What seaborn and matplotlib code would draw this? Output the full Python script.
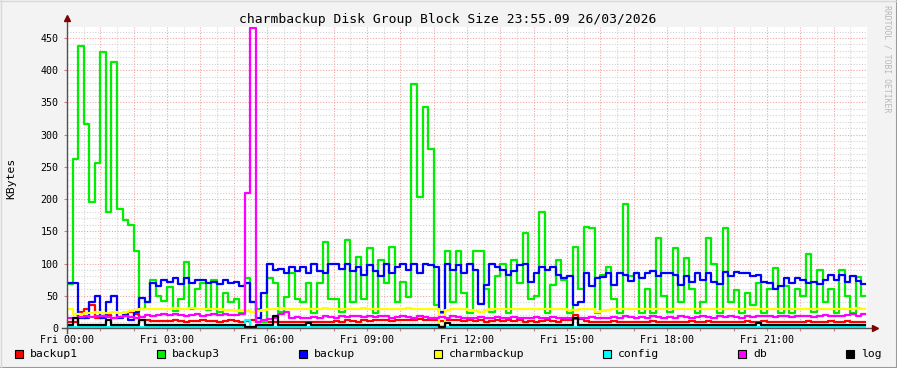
import numpy as np
import pandas as pd
import matplotlib
matplotlib.use("Agg")
import matplotlib.pyplot as plt
import seaborn as sns
from matplotlib.patches import Rectangle
from matplotlib.lines import Line2D

# 10-minute samples, Fri 00:00 .. 23:50
hours = np.arange(144) / 6.0

backup1 = [10, 10, 25, 30, 35, 15,  18, 20, 15, 17, 20, 25,  22, 12, 12, 11, 11, 11,
           11, 12, 11, 10, 11, 11,  12, 11, 11, 10, 11, 12,  11, 10, 11, 12, 10, 9,
           9, 10, 9, 10, 10, 9,  10, 9, 10, 9, 10, 10,  11, 10, 12, 11, 10, 12,
           11, 12, 13, 12, 11, 13,  12, 13, 12, 14, 12, 13,  12, 11, 12, 13, 12, 11,
           12, 11, 12, 10, 11, 12,  11, 12, 11, 12, 10, 11,  10, 11, 12, 11, 10, 12,
           13, 20, 14, 11, 10, 10,  9, 10, 11, 10, 9, 10,  10, 9, 10, 11, 10, 10,
           10, 9, 10, 10, 11, 10,  10, 11, 10, 10, 9, 10,  10, 10, 11, 10, 10, 11,
           10, 10, 9, 10, 10, 10,  10, 11, 10, 10, 10, 11,  10, 10, 11, 10, 10, 10]

backup3 = [68, 262, 437, 317, 195, 256,  428, 180, 413, 185, 167, 160,  120, 30, 40, 75, 50, 42,
           64, 26, 45, 102, 30, 60,  70, 28, 75, 25, 55, 40,  45, 24, 78, 40, 30, 10,
           78, 70, 25, 48, 85, 45,  40, 70, 24, 70, 133, 45,  45, 25, 136, 40, 110, 45,
           124, 24, 105, 70, 125, 40,  71, 48, 378, 203, 343, 278,  35, 24, 120, 40, 120, 55,
           24, 120, 120, 60, 25, 80,  100, 24, 105, 70, 147, 45,  50, 180, 24, 67, 105, 74,
           24, 126, 60, 157, 155, 24,  82, 95, 45, 24, 192, 80,  85, 24, 60, 24, 140, 50,
           25, 124, 40, 109, 60, 24,  40, 140, 100, 24, 155, 40,  59, 24, 54, 35, 70, 24,
           60, 93, 24, 65, 24, 60,  50, 115, 25, 90, 40, 60,  24, 90, 50, 24, 79, 50]

backup = [70, 70, 15, 15, 40, 50,  15, 40, 50, 15, 20, 12,  25, 47, 40, 70, 65, 75,
          72, 78, 68, 77, 70, 75,  75, 70, 72, 68, 74, 70,  72, 65, 70, 40, 15, 55,
          100, 90, 92, 85, 95, 88,  95, 85, 100, 88, 85, 100,  100, 92, 100, 88, 95, 82,
          97, 88, 80, 100, 85, 95,  100, 90, 100, 85, 100, 97,  95, 25, 100, 90, 97, 85,
          100, 90, 38, 67, 100, 95,  90, 82, 88, 97, 100, 72,  85, 95, 90, 95, 82, 78,
          80, 35, 40, 85, 65, 78,  79, 85, 67, 85, 82, 73,  85, 78, 85, 88, 80, 85,
          85, 82, 67, 80, 72, 85,  75, 85, 72, 68, 87, 80,  87, 85, 85, 80, 82, 72,
          70, 60, 65, 78, 70, 77,  75, 70, 72, 68, 75, 82,  75, 82, 72, 80, 73, 68]

charmbackup = [30, 22, 22, 23, 24, 25,  24, 24, 25, 24, 25, 26,  28, 29, 30, 30, 29, 30,
               30, 31, 30, 30, 31, 30,  30, 30, 29, 30, 28, 28,  27, 28, 26, 25, 27, 28,
               30, 30, 31, 30, 30, 30,  30, 29, 30, 30, 31, 30,  30, 30, 29, 30, 30, 31,
               30, 30, 30, 29, 30, 30,  30, 31, 30, 30, 30, 30,  30, 3, 28, 29, 30, 30,
               28, 27, 25, 28, 29, 30,  30, 29, 30, 30, 29, 30,  30, 30, 29, 30, 30, 29,
               28, 28, 29, 30, 30, 25,  26, 28, 29, 30, 30, 29,  30, 30, 29, 30, 30, 30,
               30, 29, 30, 30, 30, 29,  30, 30, 30, 29, 30, 30,  29, 30, 30, 30, 29, 30,
               30, 30, 29, 30, 30, 30,  30, 29, 30, 30, 30, 30,  30, 30, 29, 30, 31, 30]

config = [2, 2, 2, 2, 2, 2,  2, 2, 2, 2, 2, 2,  2, 2, 2, 2, 2, 2,
          2, 2, 2, 2, 2, 2,  2, 2, 2, 2, 2, 2,  2, 2, 12, 2, 2, 2,
          2, 2, 2, 2, 2, 2,  2, 2, 2, 2, 2, 2,  2, 2, 2, 2, 2, 2,
          2, 2, 2, 2, 2, 2,  2, 2, 2, 2, 2, 2,  2, 2, 2, 2, 2, 2,
          2, 2, 2, 2, 2, 2,  2, 2, 2, 2, 2, 2,  2, 2, 2, 2, 2, 2,
          2, 2, 2, 2, 2, 2,  2, 2, 2, 2, 2, 2,  2, 2, 2, 2, 2, 2,
          2, 2, 2, 2, 2, 2,  2, 2, 2, 2, 2, 2,  2, 2, 2, 2, 2, 2,
          2, 2, 2, 2, 2, 2,  2, 2, 2, 2, 2, 2,  2, 2, 2, 2, 2, 2]

db = [15, 16, 17, 18, 17, 18,  18, 17, 16, 17, 18, 17,  16, 17, 20, 19, 20, 21,
      20, 21, 20, 19, 20, 21,  19, 20, 21, 20, 21, 20,  20, 21, 210, 465, 10, 12,
      14, 15, 22, 25, 16, 17,  16, 15, 17, 16, 18, 17,  16, 18, 17, 19, 18, 17,
      18, 17, 19, 18, 16, 17,  18, 17, 16, 18, 17, 16,  15, 17, 16, 18, 17, 16,
      15, 16, 17, 15, 16, 17,  16, 15, 17, 16, 15, 16,  17, 16, 15, 17, 16, 15,
      16, 14, 15, 16, 17, 16,  15, 16, 17, 16, 18, 17,  16, 17, 16, 18, 17, 16,
      17, 16, 18, 17, 16, 17,  18, 17, 16, 18, 17, 18,  17, 16, 18, 17, 18, 19,
      18, 17, 19, 18, 17, 18,  19, 18, 17, 19, 20, 18,  19, 18, 20, 22, 19, 21]

log = [5, 15, 5, 5, 5, 5,  5, 12, 5, 5, 5, 5,  5, 12, 5, 5, 5, 5,
       5, 5, 5, 5, 5, 5,  5, 5, 5, 5, 5, 5,  5, 5, 1, 1, 5, 5,
       5, 18, 5, 5, 5, 5,  5, 8, 5, 5, 5, 5,  5, 5, 5, 5, 5, 5,
       5, 5, 5, 5, 5, 5,  5, 5, 5, 5, 5, 5,  5, 1, 8, 5, 5, 5,
       5, 5, 5, 5, 5, 5,  5, 5, 5, 5, 5, 5,  5, 5, 5, 5, 5, 5,
       5, 15, 5, 5, 5, 5,  5, 5, 5, 5, 5, 5,  5, 5, 5, 5, 5, 5,
       5, 5, 5, 5, 5, 5,  5, 5, 5, 5, 5, 5,  5, 5, 5, 5, 7, 5,
       5, 5, 5, 5, 5, 5,  5, 5, 5, 5, 5, 5,  5, 5, 5, 5, 5, 5]

names = ["backup1", "backup3", "backup", "charmbackup", "config", "db", "log"]
colors = ["#ff0000", "#00ee00", "#0000ff", "#ffff00", "#00ffff", "#ff00ff", "#000000"]
series = [backup1, backup3, backup, charmbackup, config, db, log]

end_t = 23.93
frames = []
for n, vals in zip(names, series):
    t = list(hours) + [end_t]
    v = list(vals) + [vals[-1]]
    frames.append(pd.DataFrame({"hours": t, "kbytes": v, "series": n}))
df = pd.concat(frames, ignore_index=True)

W, H = 897, 368
fig = plt.figure(figsize=(W / 100, H / 100), dpi=100, facecolor="#f3f3f3")
plt.rcParams["font.family"] = ["DejaVu Sans Mono"]

x0, x1, y0, y1 = 67, 867, 328, 27
ax = fig.add_axes([x0 / W, 1 - y0 / H, (x1 - x0) / W, (y0 - y1) / H])
ax.set_facecolor("white")

sns.lineplot(data=df, x="hours", y="kbytes", hue="series", hue_order=names,
             palette=dict(zip(names, colors)), estimator=None, sort=True,
             drawstyle="steps-post", linewidth=1.6, legend=False, ax=ax, zorder=3)

ax.set_xlim(0, 24)
ax.set_ylim(0, 467)

# grid: major red every hour / 50, minor gray every 30 min / 10
ax.set_xticks(np.arange(0, 24, 1))
ax.set_xticklabels([f"Fri {h:02d}:00" if h % 3 == 0 else "" for h in range(24)])
ax.set_xticks(np.arange(0.5, 24, 1), minor=True)
ax.set_yticks(np.arange(0, 451, 50))
ax.set_yticks(np.arange(10, 467, 10), minor=True)
ax.grid(which="minor", color="#d4d4d4", linestyle=(0, (1, 1.5)), linewidth=0.8, zorder=0)
ax.grid(which="major", color="#f3a3a3", linestyle=(0, (1, 1.5)), linewidth=0.8, zorder=0)
ax.set_axisbelow(True)
ax.tick_params(which="major", length=2, color="#d08080", labelsize=7.2, pad=3)
ax.tick_params(which="minor", length=0)
ax.tick_params(axis="y", pad=4)
ax.set_xlabel("")
ax.set_ylabel("")
for s in ax.spines.values():
    s.set_visible(False)

# axes lines with arrows, rrdtool style
ax.add_line(Line2D([0, 0], [-5 / 301, 1.025], transform=ax.transAxes, color="#505050",
                   lw=1, clip_on=False, zorder=5))
ax.add_line(Line2D([-5 / 800, 1.008], [0, 0], transform=ax.transAxes, color="#505050",
                   lw=1, clip_on=False, zorder=5))
ax.plot([0], [1.03], marker="^", color="#7f0000", markersize=4, transform=ax.transAxes,
        clip_on=False, zorder=6)
ax.plot([1.01], [0], marker=">", color="#7f0000", markersize=4, transform=ax.transAxes,
        clip_on=False, zorder=6)

fig.text(448 / W, 1 - 19 / H, "charmbackup Disk Group Block Size 23:55.09 26/03/2026",
         ha="center", va="center", fontsize=9.4, color="#000000")
fig.text(11 / W, 1 - 178 / H, "KBytes", rotation=90, ha="center", va="center", fontsize=8.2)
fig.text(887 / W, 1 - 59 / H, "RRDTOOL / TOBI OETIKER", rotation=270, ha="center",
         va="center", fontsize=5.9, color="#b8b8b8")

# legend row
leg_x = [15, 157, 299, 434, 603, 738, 846]
for lx, n, c in zip(leg_x, names, colors):
    fig.add_artist(Rectangle((lx / W, 1 - 358 / H), 8 / W, 8 / H, transform=fig.transFigure,
                             facecolor=c, edgecolor="black", lw=0.8))
    fig.text((lx + 15) / W, 1 - 354 / H, n, ha="left", va="center", fontsize=8.2)

# frame shading
fig.add_artist(Line2D([0, 1], [0.5 / H, 0.5 / H], transform=fig.transFigure, color="#9a9a9a", lw=1.5))
fig.add_artist(Line2D([1 - 0.5 / W, 1 - 0.5 / W], [0, 1], transform=fig.transFigure, color="#9a9a9a", lw=1.5))
fig.add_artist(Line2D([0, 1], [1 - 0.5 / H, 1 - 0.5 / H], transform=fig.transFigure, color="#d8d8d8", lw=1))
fig.add_artist(Line2D([0.5 / W, 0.5 / W], [0, 1], transform=fig.transFigure, color="#d8d8d8", lw=1))

fig.savefig("out.png", dpi=100, facecolor=fig.get_facecolor())
